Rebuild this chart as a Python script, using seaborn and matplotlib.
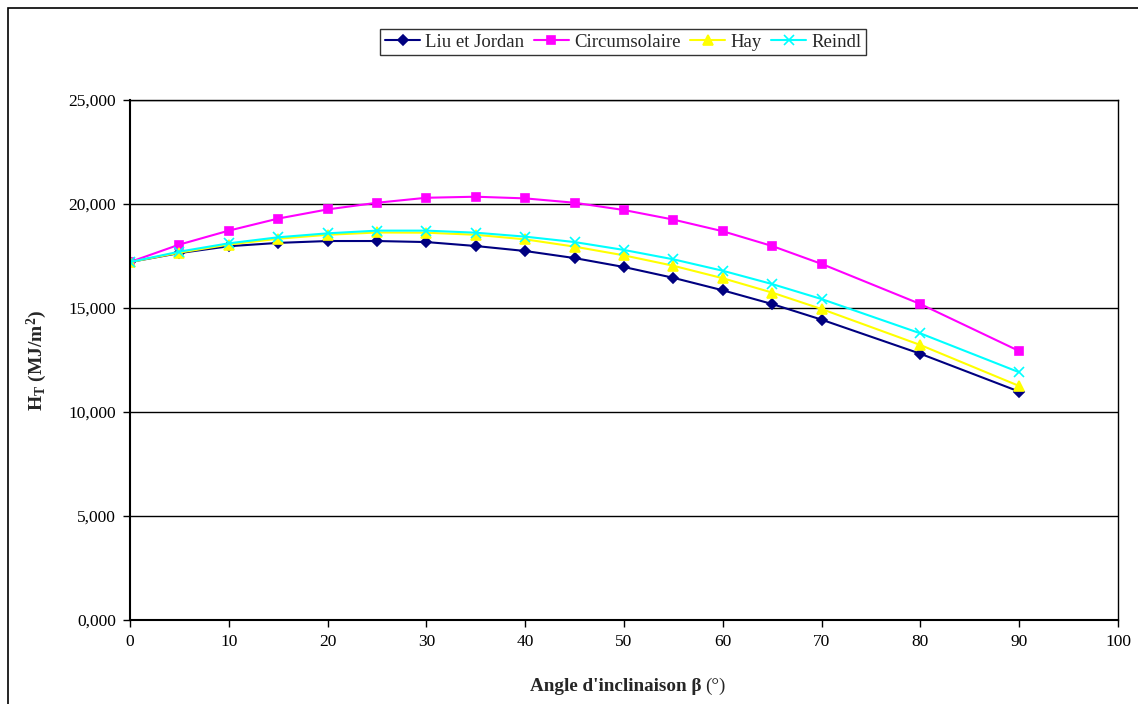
import pandas as pd
import matplotlib.pyplot as plt
import seaborn as sns
from matplotlib.patches import Rectangle

# ================== CONFIG ==================
sns.set_style("ticks")
plt.rcParams["font.family"] = ["Liberation Serif", "DejaVu Serif"]
plt.rcParams["mathtext.fontset"] = "custom"
plt.rcParams["mathtext.rm"] = "Liberation Serif"
plt.rcParams["mathtext.bf"] = "Liberation Serif:bold"
plt.rcParams["mathtext.it"] = "Liberation Serif:italic"

# ================== DADOS ==================
angles = [0, 5, 10, 15, 20, 25, 30, 35, 40, 45, 50, 55, 60, 65, 70, 80, 90]
liu_jordan = [17.21, 17.64, 17.97, 18.13, 18.22, 18.22, 18.17, 17.98, 17.74, 17.40,
              16.97, 16.45, 15.85, 15.19, 14.44, 12.80, 10.98]
circumsolaire = [17.21, 18.05, 18.72, 19.30, 19.74, 20.06, 20.30, 20.35, 20.27, 20.06,
                 19.71, 19.25, 18.69, 17.98, 17.12, 15.19, 12.93]
hay = [17.21, 17.66, 18.05, 18.33, 18.52, 18.63, 18.62, 18.52, 18.30, 17.95,
       17.53, 17.03, 16.43, 15.74, 14.95, 13.22, 11.25]
reindl = [17.21, 17.71, 18.11, 18.40, 18.59, 18.72, 18.72, 18.62, 18.43, 18.17,
          17.79, 17.34, 16.79, 16.15, 15.43, 13.78, 11.91]

series = {"Liu et Jordan": liu_jordan, "Circumsolaire": circumsolaire,
          "Hay": hay, "Reindl": reindl}
cores = {"Liu et Jordan": "#000080", "Circumsolaire": "#FF00FF",
         "Hay": "#FFFF00", "Reindl": "#00FFFF"}
marcadores = {"Liu et Jordan": "D", "Circumsolaire": "s", "Hay": "^", "Reindl": "x"}
tamanhos = {"Liu et Jordan": 5.5, "Circumsolaire": 6, "Hay": 7, "Reindl": 6.5}

# ================== GRAFICO ==================
fig = plt.figure(figsize=(11.38, 7.04), dpi=100)
ax = fig.add_axes([130 / 1138, 84 / 704, 988 / 1138, 520 / 704])

for nome, vals in series.items():
    sns.lineplot(x=angles, y=vals, color=cores[nome], marker=marcadores[nome],
                 markersize=tamanhos[nome], markeredgewidth=1.2, markeredgecolor=cores[nome],
                 linewidth=1.5, label=nome, ax=ax)
ax.get_legend().remove()

ax.set_xlim(0, 100)
ax.set_ylim(0, 25)
ax.set_xticks(range(0, 101, 10))
ax.set_yticks(range(0, 26, 5))
ax.set_yticklabels([f"{v:.3f}".replace(".", ",") for v in range(0, 26, 5)])
ax.tick_params(labelsize=12.5, length=5, width=1, direction="out", colors="black", pad=5)
ax.yaxis.grid(True, color="black", linewidth=1)
ax.set_axisbelow(True)
for s in ax.spines.values():
    s.set_linewidth(1.5)
    s.set_color("black")
ax.spines["top"].set_linewidth(1)
ax.spines["right"].set_linewidth(1)

# rotulos dos eixos
ax.set_xlabel("")
fig.text(701 / 1138, 13 / 704, "Angle d'inclinaison β", fontsize=13.8, fontweight="bold",
         ha="right", va="baseline")
fig.text(705 / 1138, 13 / 704, "(°)", fontsize=13.8, ha="left", va="baseline")
ax.set_ylabel(r"$\mathbf{H_T}$ (MJ/m$^{\mathbf{2}}$)", fontsize=14, fontweight="bold", labelpad=14)

# legenda
handles = [plt.Line2D([], [], color=cores[k], marker=marcadores[k], markersize=tamanhos[k],
                      markeredgewidth=1.2, linewidth=1.5) for k in series]
leg = fig.legend(handles, list(series), loc="center", bbox_to_anchor=(623 / 1138, 1 - 42 / 704),
                 ncol=4, fontsize=13.5, frameon=True, fancybox=False, handlelength=1.9,
                 columnspacing=0.5, handletextpad=0.25, borderpad=0.25, borderaxespad=0)
leg.get_frame().set_edgecolor("black")
leg.get_frame().set_linewidth(1)

# moldura externa
fig.patches.append(Rectangle((8 / 1138, -0.01), 1.0, 1 - 8 / 704 + 0.01, transform=fig.transFigure,
                             fill=False, edgecolor="black", linewidth=1.2))

plt.savefig("out.png", dpi=100)
